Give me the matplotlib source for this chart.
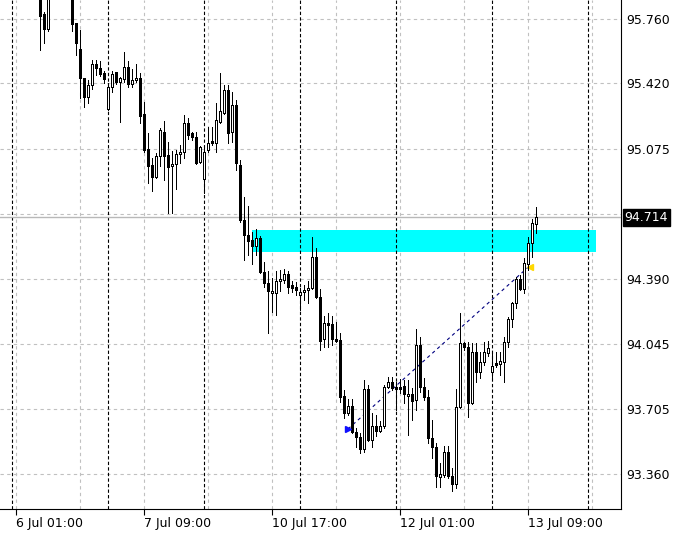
import numpy as np
import pandas as pd
import matplotlib
matplotlib.use('Agg')
import matplotlib.pyplot as plt
import matplotlib.transforms as mtransforms
from matplotlib.patches import Rectangle

nan = np.nan

# H1 bars, first visible bar at 6 Jul 07:00 (hidden bars above the view are nan)
first_bar = '2017-07-06 07:00'
opens = [95.939, 95.786, 95.708, nan, nan, nan, nan, nan, 95.886, 95.739,
         95.602, 95.449, 95.348, 95.412, 95.523, 95.502, 95.475, 95.285, 95.401, 95.480,
         95.428, 95.443, 95.507, 95.417, 95.438, 95.449, 95.259, 95.074, 94.990, 94.926,
         95.037, 95.164, 95.042, 94.984, 94.995, 95.048, 95.058, 95.211, 95.158, 95.137,
         95.005, 94.916, 95.069, 95.116, 95.106, 95.217, 95.264, 95.385, 95.164, 95.306,
         94.990, 94.700, 94.621, 94.594, 94.562, 94.605, 94.425, 94.367, 94.314, 94.314,
         94.378, 94.383, 94.415, 94.357, 94.346, 94.304, 94.320, 94.330, 94.341, 94.504,
         94.293, 94.072, 94.156, 94.151, 94.072, 94.067, 93.771, 93.681, 93.718, 93.581,
         93.555, 93.491, 93.808, 93.539, 93.613, 93.586, 93.613, 93.819, 93.845, 93.819,
         93.819, 93.824, 93.771, 93.782, 93.750, 94.040, 93.819, 93.766, 93.550, 93.502,
         93.344, 93.354, 93.476, 93.349, 93.307, 93.713, 94.051, 94.030, 93.734, 94.003,
         93.898, 93.950, 93.998, 93.898, 93.945, 93.940, 93.950, 94.056, 94.178, 94.262,
         94.388, 94.336, 94.468, 94.578, 94.678]
highs = [95.992, 95.796, 95.965, nan, nan, nan, nan, nan, 95.939, 95.739,
         95.702, 95.449, 95.438, 95.544, 95.544, 95.538, 95.486, 95.422, 95.486, 95.480,
         95.454, 95.586, 95.538, 95.496, 95.523, 95.475, 95.322, 95.158, 95.027, 95.053,
         95.185, 95.222, 95.111, 95.063, 95.069, 95.095, 95.253, 95.238, 95.164, 95.164,
         95.090, 95.079, 95.190, 95.190, 95.317, 95.475, 95.412, 95.412, 95.375, 95.333,
         95.016, 94.821, 94.774, 94.636, 94.652, 94.615, 94.478, 94.431, 94.394, 94.431,
         94.436, 94.441, 94.431, 94.378, 94.372, 94.341, 94.357, 94.378, 94.610, 94.552,
         94.336, 94.193, 94.209, 94.193, 94.162, 94.103, 93.803, 93.755, 93.755, 93.602,
         93.576, 93.856, 93.829, 93.681, 93.671, 93.639, 93.829, 93.871, 93.871, 93.845,
         93.861, 93.856, 93.856, 93.813, 94.125, 94.082, 93.866, 93.803, 93.645, 93.523,
         93.418, 93.507, 93.507, 93.391, 93.808, 94.209, 94.056, 94.056, 94.051, 94.051,
         94.003, 94.056, 94.061, 93.998, 94.003, 94.003, 94.082, 94.188, 94.267, 94.399,
         94.409, 94.499, 94.610, 94.705, 94.768]
lows = [95.596, 95.633, 95.697, nan, nan, nan, nan, nan, 95.697, 95.570,
        95.343, 95.296, 95.317, 95.391, 95.465, 95.459, 95.422, 95.280, 95.375, 95.417,
        95.217, 95.428, 95.401, 95.401, 95.428, 95.211, 95.058, 94.895, 94.853, 94.921,
        94.984, 94.911, 94.736, 94.736, 94.863, 95.000, 95.027, 95.127, 95.122, 94.995,
        95.000, 94.842, 95.058, 95.095, 95.058, 95.211, 95.259, 95.106, 95.111, 94.963,
        94.689, 94.489, 94.515, 94.468, 94.515, 94.420, 94.346, 94.103, 94.214, 94.199,
        94.325, 94.367, 94.314, 94.320, 94.304, 94.225, 94.278, 94.262, 94.336, 94.288,
        94.014, 94.030, 94.030, 94.040, 94.056, 93.739, 93.655, 93.671, 93.576, 93.503,
        93.470, 93.475, 93.534, 93.503, 93.560, 93.581, 93.602, 93.813, 93.803, 93.697,
        93.787, 93.734, 93.565, 93.645, 93.697, 93.792, 93.750, 93.523, 93.444, 93.291,
        93.291, 93.344, 93.339, 93.270, 93.286, 93.708, 94.014, 93.660, 93.729, 93.845,
        93.866, 93.935, 93.982, 93.866, 93.924, 93.882, 93.845, 94.030, 94.135, 94.236,
        94.330, 94.314, 94.436, 94.504, 94.631]
closes = [95.775, 95.708, 95.913, nan, nan, nan, nan, nan, 95.734, 95.633,
          95.449, 95.348, 95.412, 95.523, 95.502, 95.470, 95.443, 95.401, 95.470, 95.428,
          95.449, 95.507, 95.417, 95.438, 95.449, 95.248, 95.069, 94.984, 94.926, 95.037,
          95.174, 95.037, 94.979, 94.995, 95.048, 95.058, 95.211, 95.148, 95.137, 95.000,
          95.085, 95.058, 95.106, 95.106, 95.227, 95.275, 95.385, 95.158, 95.306, 95.000,
          94.700, 94.621, 94.589, 94.562, 94.605, 94.425, 94.367, 94.325, 94.325, 94.378,
          94.388, 94.415, 94.346, 94.341, 94.330, 94.320, 94.330, 94.341, 94.504, 94.293,
          94.061, 94.156, 94.146, 94.072, 94.061, 93.766, 93.681, 93.718, 93.581, 93.555,
          93.491, 93.808, 93.539, 93.613, 93.586, 93.613, 93.819, 93.845, 93.813, 93.808,
          93.808, 93.782, 93.782, 93.745, 94.040, 93.819, 93.766, 93.550, 93.502, 93.349,
          93.360, 93.476, 93.349, 93.307, 93.713, 94.051, 94.030, 93.734, 94.003, 93.898,
          93.950, 94.003, 94.024, 93.929, 93.935, 93.956, 94.056, 94.178, 94.262, 94.388,
          94.336, 94.473, 94.578, 94.684, 94.714]

price_ticks = [95.760, 95.420, 95.075, 94.730, 94.390, 94.045, 93.705, 93.360]
price_labels = ['95.760', '95.420', '95.075', '', '94.390', '94.045', '93.705', '93.360']
current_price = 94.714

zone_start, zone_end = '2017-07-10 12:00', '2017-07-14 02:00'
zone_low, zone_high = 94.530, 94.647

trend_times = ['2017-07-11 12:00', '2017-07-13 09:00']
trend_prices = [93.597, 94.450]

# trading hours only (weekend removed), one slot per bar
hours = pd.date_range('2017-07-05 21:00', '2017-07-14 23:00', freq='h')
hours = hours[hours.dayofweek < 5]
pos = {t: i for i, t in enumerate(hours)}

def bar_x(s):
    return pos[pd.Timestamp(s)]

o = np.array(opens)
h = np.array(highs)
l = np.array(lows)
c = np.array(closes)
k0 = bar_x(first_bar)
x = np.arange(k0, k0 + len(o))
ok = ~np.isnan(o)
x, o, h, l, c = x[ok], o[ok], h[ok], l[ok], c[ok]
up = c >= o

fig = plt.figure(figsize=(6.84, 5.40), dpi=100)
ax = fig.add_axes([0, 31 / 540, 621 / 684, 509 / 540])
ax.set_xlim(0, 155.25)
ax.set_ylim(93.175, 95.860)

grey = '#c0c0c0'
for i, t in enumerate(hours):
    if i % 16 == 4:
        ax.axvline(i, color=grey, lw=0.8, ls=(0, (3, 3)), zorder=1)
for p in price_ticks:
    ax.axhline(p, color=grey, lw=0.8, ls=(0, (3, 3)), zorder=1)

# supply zone
zx0, zx1 = bar_x(zone_start), bar_x(zone_end)
ax.add_patch(Rectangle((zx0, zone_low), zx1 - zx0, zone_high - zone_low,
                       facecolor='#00ffff', edgecolor='none', zorder=2))

# day separators
for i, t in enumerate(hours):
    if t.hour == 0:
        ax.axvline(i, color='black', lw=0.8, ls=(0, (3, 2)), zorder=3)

ax.axhline(current_price, color='#b8b8b8', lw=1, zorder=3)

# trend line with markers
tx = [bar_x(t) for t in trend_times]
ax.plot(tx, trend_prices, color='#000080', lw=0.8, ls=(0, (3, 3)), zorder=3)
ax.plot(tx[0], trend_prices[0], marker='>', color='#1010ff', ms=5, zorder=7)
ax.plot(tx[1] + 0.5, trend_prices[1], marker='<', color='#ffd800', ms=4, zorder=3)

# candles
ax.vlines(x, l, h, color='black', lw=0.6, zorder=4, antialiased=False)
body = np.maximum(np.abs(c - o), 0.004)
ax.bar(x, body, bottom=np.minimum(o, c), width=0.45,
       color=np.where(up, 'white', 'black'), edgecolor='black', linewidth=0.5,
       zorder=5, antialiased=False)

# axes styling
for s in ['left', 'top']:
    ax.spines[s].set_visible(False)
ax.spines['right'].set_color('black')
ax.spines['bottom'].set_color('black')
ax.yaxis.tick_right()
ax.set_yticks(price_ticks)
ax.set_yticklabels(price_labels)
ax.tick_params(axis='y', length=0, pad=4, labelsize=9, colors='black')

label_x = [i for i, t in enumerate(hours) if i % 32 == 4 and i < 155]
ax.set_xticks(label_x)
ax.set_xticklabels([f"{hours[i].day} {hours[i]:%b %H:%M}" for i in label_x], ha='left')
ax.tick_params(axis='x', length=4, width=0.8, pad=2, labelsize=9, colors='black')

trans = mtransforms.blended_transform_factory(ax.transAxes, ax.transData)
ax.text(1.006, current_price, f'{current_price:.3f}', transform=trans, ha='left', va='center',
        color='white', fontsize=9, clip_on=False,
        bbox=dict(boxstyle='square,pad=0.15', facecolor='black', edgecolor='black'))

fig.savefig('out.png', dpi=100)
